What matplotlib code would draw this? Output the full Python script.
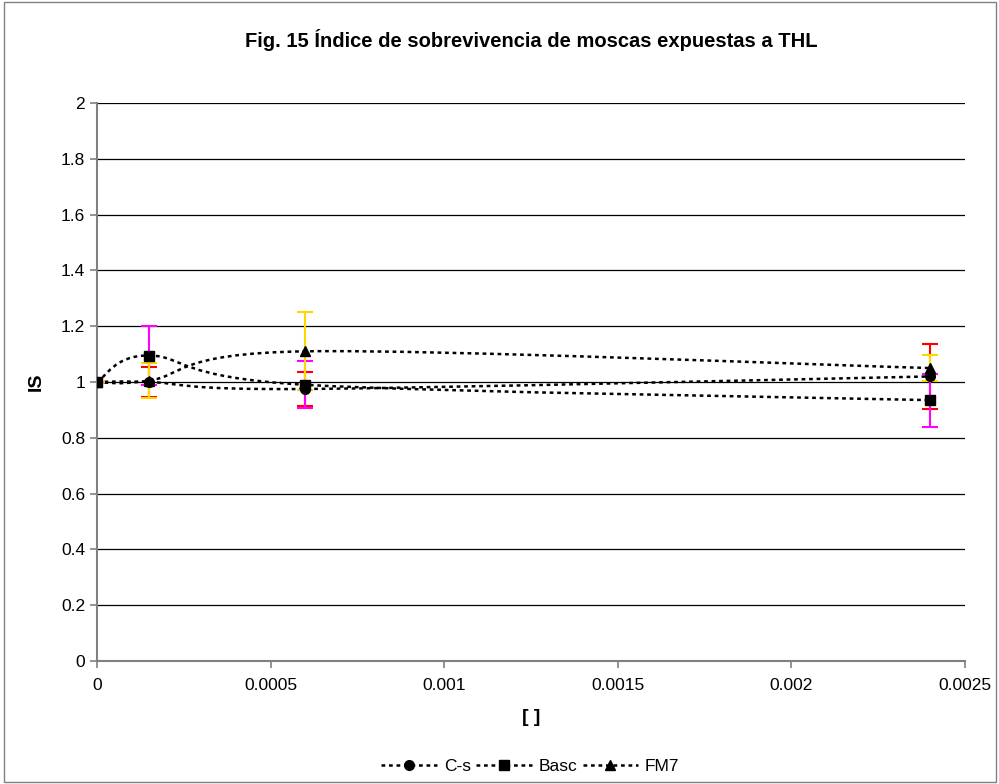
import numpy as np
import matplotlib.pyplot as plt
from matplotlib.path import Path
from matplotlib.patches import PathPatch, Rectangle
from matplotlib.lines import Line2D

plt.rcParams['font.family'] = ['Liberation Sans', 'DejaVu Sans']

# concentraciones y medias del IS
conc = [0, 0.00015, 0.0006, 0.0024]
cs = [1.0, 1.0, 0.975, 1.02]
basc = [1.0, 1.095, 0.99, 0.935]
fm7 = [1.0, 1.005, 1.11, 1.05]

# errores
cs_err = [0.0, 0.053, 0.062, 0.117]
basc_err = [0.0, 0.107, 0.084, 0.095]
fm7_err = [0.0, 0.063, 0.14, 0.047]

labels = ['C-s', 'Basc', 'FM7']
markers = ['o', 's', '^']
err_colors = ['#ff0000', '#ff00ff', '#ffd700']


def smooth_path(x, y):
    # curva suavizada tipo Excel (Bezier cubica por tramos)
    pts = np.column_stack([x, y]).astype(float)
    n = len(pts)
    verts = [pts[0]]
    codes = [Path.MOVETO]
    for i in range(n - 1):
        p0 = pts[i - 1] if i > 0 else pts[i]
        p1 = pts[i]
        p2 = pts[i + 1]
        p3 = pts[i + 2] if i + 2 < n else pts[i + 1]
        c1 = p1 + (p2 - p0) / 6.0
        c2 = p2 - (p3 - p1) / 6.0
        verts += [c1, c2, p2]
        codes += [Path.CURVE4] * 3
    return Path(verts, codes)


fig = plt.figure(figsize=(9.99, 7.84), dpi=100)
fig.patches.append(Rectangle((0.004, 0.002), 0.993, 0.996, transform=fig.transFigure,
                             fill=False, edgecolor='#808080', linewidth=1))
ax = fig.add_axes([0.0971, 0.1569, 0.8689, 0.7117])

for yy in np.arange(0.2, 2.01, 0.2):
    ax.axhline(yy, color='black', linewidth=0.9, zorder=1)

series = [cs, basc, fm7]
errs = [cs_err, basc_err, fm7_err]
handles = []
for vals, e, col, m, lab in zip(series, errs, err_colors, markers, labels):
    patch = PathPatch(smooth_path(conc, vals), facecolor='none', edgecolor='black',
                      linewidth=1.8, linestyle=(0, (1.5, 1.5)), zorder=3)
    ax.add_patch(patch)
    ax.errorbar(conc, vals, yerr=e, fmt='none', ecolor=col, elinewidth=1.5,
                capsize=6, capthick=1.5, zorder=4)
    ax.plot(conc, vals, linestyle='none', marker=m, markersize=7,
            color='black', zorder=5)
    handles.append(Line2D([], [], color='black', linestyle=(0, (1.5, 1.5)),
                          linewidth=1.8, marker=m, markersize=7, label=lab))

ax.set_xlim(0, 0.0025)
ax.set_ylim(0, 2)
ax.set_xticks([0, 0.0005, 0.001, 0.0015, 0.002, 0.0025])
ax.set_xticklabels(['0', '0.0005', '0.001', '0.0015', '0.002', '0.0025'])
ax.set_yticks(np.arange(0, 2.01, 0.2))
ax.set_yticklabels(['0', '0.2', '0.4', '0.6', '0.8', '1', '1.2', '1.4', '1.6', '1.8', '2'])
ax.tick_params(labelsize=12.5, color='#808080', length=5, width=1.2)
ax.tick_params(axis='x', pad=7)

for s in ['top', 'right']:
    ax.spines[s].set_visible(False)
for s in ['left', 'bottom']:
    ax.spines[s].set_color('#808080')
    ax.spines[s].set_linewidth(1.5)

ax.set_xlabel('[ ]', fontsize=14, fontweight='bold', labelpad=12)
ax.set_ylabel('IS', fontsize=14, fontweight='bold', labelpad=12)

fig.text(0.532, 0.949, 'Fig. 15 Índice de sobrevivencia de moscas expuestas a THL',
         ha='center', va='center', fontsize=14.5, fontweight='bold')

fig.legend(handles=handles, loc='center', bbox_to_anchor=(0.531, 0.022), ncol=3,
           frameon=False, fontsize=12.5, handlelength=3.2, handletextpad=0.4,
           columnspacing=0.3)

fig.savefig('out.png', dpi=100)
